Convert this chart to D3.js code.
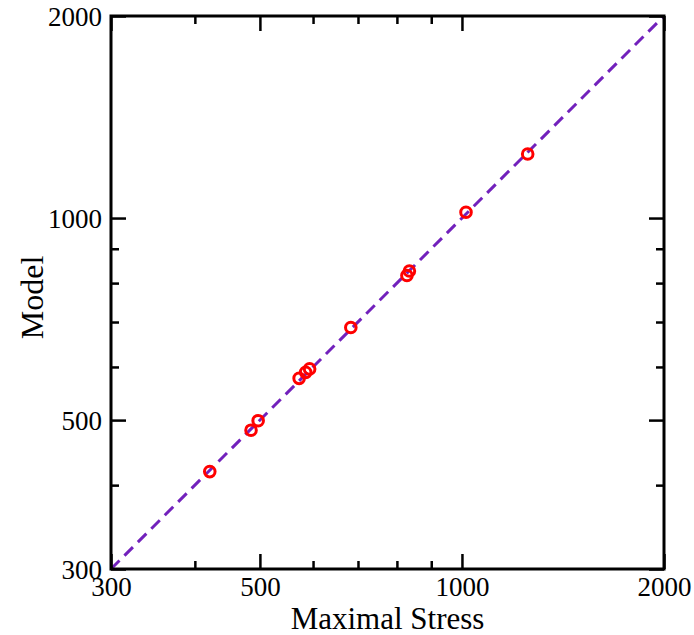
<!DOCTYPE html>
<html>
<head>
<meta charset="utf-8">
<script src="https://cdn.jsdelivr.net/npm/d3@7"></script>
<style>
  html, body { margin: 0; padding: 0; background: #fff; }
  svg { display: block; }
  text { font-family: "Liberation Serif", "Times New Roman", serif; fill: #000; }
</style>
</head>
<body>
<svg id="chart" width="694" height="635"></svg>
<script>
// Data
const maximalStress = [421, 485, 497, 572, 585, 593, 683, 828, 835, 1014, 1253];
const model         = [419, 483, 499, 577, 589, 596, 687, 821, 834, 1020, 1246];
const majorTicks = [300, 500, 1000, 2000];
const minorTicks = [400, 600, 700, 800, 900];
const diagonal = [300, 2000];

(function () {
const svg = d3.select("#chart");
const pL = 111, pR = 664, pT = 16, pB = 569;

const x = d3.scaleLog().domain([300, 2000]).range([pL, pR]);
const y = d3.scaleLog().domain([300, 2000]).range([pB, pT]);

// Diagonal dashed line
svg.append("line")
  .attr("x1", x(diagonal[0])).attr("y1", y(diagonal[0]))
  .attr("x2", x(diagonal[1])).attr("y2", y(diagonal[1]))
  .attr("stroke", "#7221bc")
  .attr("stroke-width", 3)
  .attr("stroke-dasharray", "12,7");

// Points
svg.append("g").selectAll("circle")
  .data(maximalStress.map((d, i) => [d, model[i]]))
  .join("circle")
  .attr("cx", d => x(d[0]))
  .attr("cy", d => y(d[1]))
  .attr("r", 5.3)
  .attr("fill", "none")
  .attr("stroke", "#ff0000")
  .attr("stroke-width", 3);

// Axes with inward ticks
const tickFmt = d => String(d);
function addAxis(gen, transform, ticks, size, labels) {
  const g = svg.append("g").attr("transform", transform)
    .call(gen.tickValues(ticks).tickSize(size).tickPadding(6).tickFormat(labels ? tickFmt : ""));
  g.select(".domain").remove();
  g.selectAll(".tick line").attr("stroke", "#000").attr("stroke-width", 2.5);
  return g;
}
// bottom
const gb = addAxis(d3.axisBottom(x), `translate(0,${pB})`, majorTicks, -15, true);
gb.selectAll(".tick text").attr("font-size", 27).attr("dy", null).attr("y", 27)
  .attr("font-family", "Liberation Serif");
addAxis(d3.axisBottom(x), `translate(0,${pB})`, minorTicks, -8, false);
// top
addAxis(d3.axisTop(x), `translate(0,${pT})`, majorTicks, -15, false);
addAxis(d3.axisTop(x), `translate(0,${pT})`, minorTicks, -8, false);
// left
const gl = addAxis(d3.axisLeft(y), `translate(${pL},0)`, majorTicks, -15, true);
gl.selectAll(".tick text").attr("font-size", 27).attr("x", -9).attr("dy", "0.35em")
  .attr("font-family", "Liberation Serif");
addAxis(d3.axisLeft(y), `translate(${pL},0)`, minorTicks, -8, false);
// right
addAxis(d3.axisRight(y), `translate(${pR},0)`, majorTicks, -15, false);
addAxis(d3.axisRight(y), `translate(${pR},0)`, minorTicks, -8, false);

// Frame
svg.append("rect")
  .attr("x", pL).attr("y", pT)
  .attr("width", pR - pL).attr("height", pB - pT)
  .attr("fill", "none").attr("stroke", "#000").attr("stroke-width", 3);

// Axis titles
svg.append("text")
  .attr("x", (pL + pR) / 2).attr("y", 629)
  .attr("text-anchor", "middle").attr("font-size", 31)
  .text("Maximal Stress");
svg.append("text")
  .attr("transform", `translate(43,${(pT + pB) / 2 + 5}) rotate(-90)`)
  .attr("text-anchor", "middle").attr("font-size", 32)
  .text("Model");
})();
</script>
</body>
</html>
